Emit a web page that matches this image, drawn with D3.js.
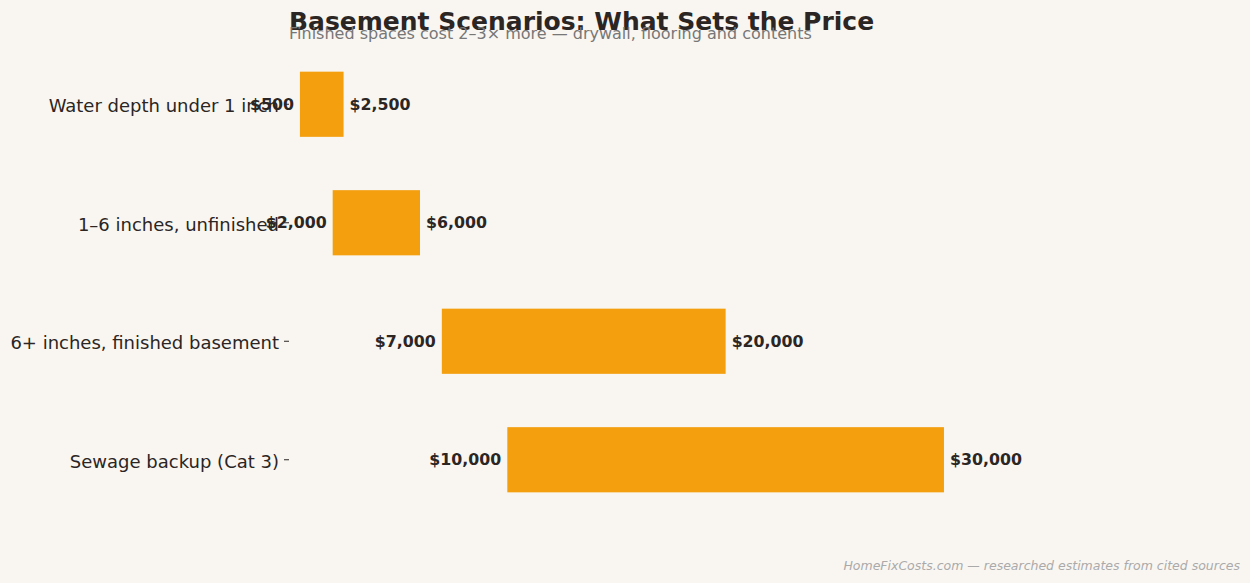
<!DOCTYPE html>
<html lang="en">
<head>
    <meta charset="UTF-8">
    <title>Basement Scenarios: What Sets the Price</title>
    <script src="https://d3js.org/d3.v7.min.js"></script>
    <style>
        body { margin: 0; background: #f9f6f2; }
        svg { display: block; font-family: "DejaVu Sans", sans-serif; }
        .axis text { fill: #2b2523; }
        .axis line { stroke: #2b2523; }
        .axis path { display: none; }
    </style>
</head>
<body>
    <div id="chart"></div>
    <script>
        // data
        var scenarios = ["Water depth under 1 inch", "1\u20136 inches, unfinished", "6+ inches, finished basement", "Sewage backup (Cat 3)"];
        var lowCost = [500, 2000, 7000, 10000];
        var highCost = [2500, 6000, 20000, 30000];

        var W = 1250, H = 583;
        var margin = { top: 45, right: 10, bottom: 64, left: 289 };
        var width = W - margin.left - margin.right,
            height = H - margin.top - margin.bottom;

        var data = scenarios.map(function (s, i) {
            return { name: s, low: lowCost[i], high: highCost[i] };
        });

        var svg = d3.select("#chart").append("svg")
            .attr("width", W)
            .attr("height", H);

        svg.append("rect").attr("width", W).attr("height", H).attr("fill", "#f9f6f2");

        var g = svg.append("g")
            .attr("transform", "translate(" + margin.left + "," + margin.top + ")");

        var x = d3.scaleLinear()
            .domain([0, 43560])
            .range([0, width]);

        var y = d3.scaleBand()
            .domain(scenarios)
            .range([0, height])
            .paddingInner(0.45)
            .paddingOuter(0.225);

        g.append("g")
            .attr("class", "axis")
            .call(d3.axisLeft(y).tickSize(5).tickPadding(5))
            .attr("font-family", "DejaVu Sans")
            .attr("font-size", 18)
            .selectAll("text")
            .attr("dy", "0.45em");

        g.selectAll(".bar")
            .data(data)
            .enter()
            .append("rect")
            .attr("class", "bar")
            .attr("x", function (d) { return x(d.low); })
            .attr("width", function (d) { return x(d.high) - x(d.low); })
            .attr("y", function (d) { return y(d.name); })
            .attr("height", y.bandwidth())
            .attr("fill", "#f49f0e");

        var fmt = function (v) { return "$" + d3.format(",")(v); };

        g.selectAll(".lowLabel")
            .data(data)
            .enter()
            .append("text")
            .attr("x", function (d) { return x(d.low) - 6; })
            .attr("y", function (d) { return y(d.name) + y.bandwidth() / 2; })
            .attr("dy", "0.35em")
            .attr("text-anchor", "end")
            .style("font-size", "15.8px")
            .style("font-weight", "bold")
            .style("fill", "#2b2523")
            .text(function (d) { return fmt(d.low); });

        g.selectAll(".highLabel")
            .data(data)
            .enter()
            .append("text")
            .attr("x", function (d) { return x(d.high) + 6; })
            .attr("y", function (d) { return y(d.name) + y.bandwidth() / 2; })
            .attr("dy", "0.35em")
            .attr("text-anchor", "start")
            .style("font-size", "15.8px")
            .style("font-weight", "bold")
            .style("fill", "#2b2523")
            .text(function (d) { return fmt(d.high); });

        svg.append("text")
            .attr("x", 289)
            .attr("y", 30)
            .style("font-size", "25px")
            .style("font-weight", "bold")
            .style("fill", "#2b2523")
            .text("Basement Scenarios: What Sets the Price");

        svg.append("text")
            .attr("x", 289)
            .attr("y", 39)
            .style("font-size", "16px")
            .style("fill", "#777")
            .text("Finished spaces cost 2\u20133\u00d7 more \u2014 drywall, flooring and contents");

        svg.append("text")
            .attr("x", 1240)
            .attr("y", 570)
            .attr("text-anchor", "end")
            .style("font-size", "12.5px")
            .style("font-style", "italic")
            .style("fill", "#aaa")
            .text("HomeFixCosts.com \u2014 researched estimates from cited sources");
    </script>
</body>
</html>
